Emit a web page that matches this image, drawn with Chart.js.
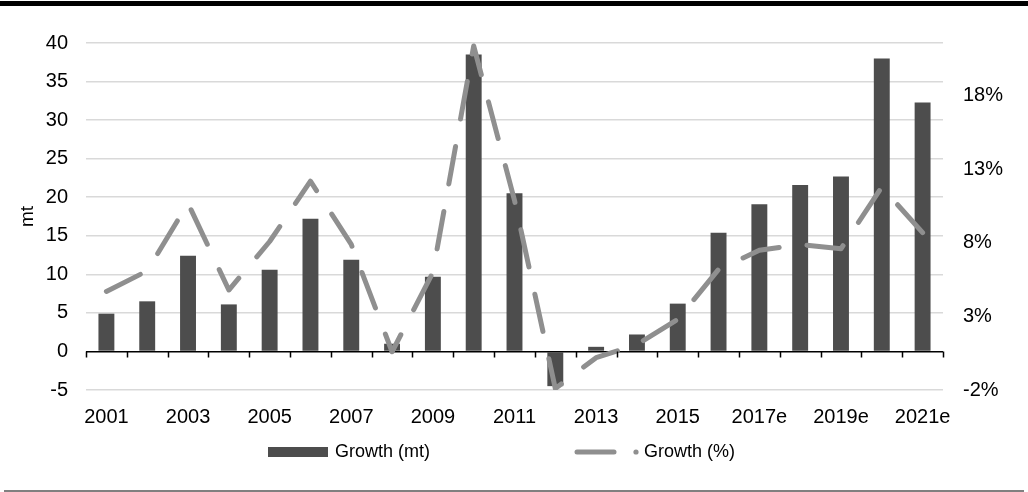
<!DOCTYPE html>
<html>
<head>
<meta charset="utf-8">
<script src="https://cdn.jsdelivr.net/npm/chart.js@4/dist/chart.umd.min.js"></script>
<style>
  body { margin: 0; background: #fff; }
  #wrap { width: 1028px; height: 492px; position: relative; }
</style>
</head>
<body>
<div id="wrap"><canvas id="myChart"></canvas></div>
<script>
// years on the x axis
var labels = ['2001', '2002', '2003', '2004', '2005', '2006', '2007', '2008', '2009', '2010',
  '2011', '2012', '2013', '2014', '2015', '2016', '2017e', '2018e', '2019e', '2020e', '2021e'];
// growth in mt (bars, left axis)
var growthMt = [4.9, 6.5, 12.4, 6.1, 10.6, 17.2, 11.9, 1.0, 9.7, 38.5,
  20.5, -4.5, 0.6, 2.2, 6.2, 15.4, 19.1, 21.6, 22.7, 38.0, 32.3];
// growth in % (dashed line, right axis)
var growthPct = [4.7, 6.1, 10.7, 4.8, 8.1, 12.2, 7.9, 0.6, 6.0, 21.4,
  10.9, -1.9, 0.2, 1.1, 2.8, 6.2, 7.5, 7.9, 7.6, 11.8, 8.7];
// right axis tick labels
var pctTicks = [-2, 3, 8, 13, 18];

var FONT = 'Liberation Sans, Arial, sans-serif';
var BAR = '#4d4d4d';
var LINE = '#8f8f8f';

// frame lines, zero-axis tick marks and the legend
const extras = {
  id: 'extras',
  afterDraw(chart) {
    const c = chart.ctx;
    const x = chart.scales.x;
    const y = chart.scales.y;
    c.save();
    c.fillStyle = '#000';
    c.fillRect(0, 1, 1028, 5);
    c.fillStyle = '#808080';
    c.fillRect(4, 490, 1020, 2);

    // ticks on the zero line, between categories
    const y0 = y.getPixelForValue(0);
    const step = (x.right - x.left) / labels.length;
    c.strokeStyle = '#000';
    c.lineWidth = 1.5;
    c.beginPath();
    for (let i = 0; i <= labels.length; i++) {
      const px = Math.round(x.left + i * step) + 0.5;
      c.moveTo(px, y0);
      c.lineTo(px, y0 + 6);
    }
    c.stroke();

    // legend
    const ly = 452;
    c.fillStyle = BAR;
    c.fillRect(268, ly - 5, 60, 10);
    c.font = '18px ' + FONT;
    c.fillStyle = '#000';
    c.textBaseline = 'middle';
    c.fillText('Growth (mt)', 335, ly);

    c.strokeStyle = LINE;
    c.lineWidth = 5;
    c.lineCap = 'round';
    c.beginPath();
    c.moveTo(577, ly);
    c.lineTo(614, ly);
    c.stroke();
    c.fillStyle = LINE;
    c.beginPath();
    c.arc(636, ly, 2.6, 0, Math.PI * 2);
    c.fill();
    c.fillStyle = '#000';
    c.fillText('Growth (%)', 644, ly);
    c.restore();
  }
};

const ctx = document.getElementById('myChart');
var myChart = new Chart(ctx, {
  type: 'bar',
  data: {
    labels: labels,
    datasets: [
      {
        type: 'line',
        label: 'Growth (%)',
        data: growthPct,
        yAxisID: 'y1',
        borderColor: LINE,
        borderWidth: 5,
        borderDash: [38, 28],
        borderCapStyle: 'round',
        borderJoinStyle: 'round',
        pointRadius: 0,
        tension: 0,
        order: 0
      },
      {
        label: 'Growth (mt)',
        data: growthMt,
        yAxisID: 'y',
        backgroundColor: BAR,
        barPercentage: 0.39,
        categoryPercentage: 1,
        order: 1
      }
    ]
  },
  options: {
    responsive: true,
    maintainAspectRatio: false,
    animation: false,
    layout: { padding: { left: 10, right: 0, top: 43, bottom: 62 } },
    plugins: {
      legend: { display: false },
      tooltip: { enabled: false }
    },
    scales: {
      x: {
        grid: { display: false },
        border: { display: false },
        ticks: {
          autoSkip: false,
          maxRotation: 0,
          padding: 7,
          color: '#000',
          font: { family: FONT, size: 20 },
          callback: function (v, i) { return i % 2 === 0 ? labels[i] : ''; }
        },
        afterFit: function (s) { s.height = 40; }
      },
      y: {
        position: 'left',
        min: -5,
        max: 40,
        border: { display: false },
        grid: {
          drawTicks: false,
          lineWidth: 1.5,
          color: function (c) { return c.tick.value === 0 ? '#000' : '#d9d9d9'; }
        },
        ticks: {
          stepSize: 5,
          padding: 18,
          color: '#000',
          font: { family: FONT, size: 20 }
        },
        title: {
          display: true,
          text: 'mt',
          color: '#000',
          padding: { top: 6, bottom: 0 },
          font: { family: FONT, size: 19 }
        },
        afterFit: function (s) { s.width = 76; }
      },
      y1: {
        position: 'right',
        min: -2,
        max: 21.6,
        border: { display: false },
        grid: { display: false },
        afterBuildTicks: function (s) {
          s.ticks = pctTicks.map(function (v) { return { value: v }; });
        },
        ticks: {
          padding: 12,
          color: '#000',
          font: { family: FONT, size: 20 },
          callback: function (v) { return v + '%'; }
        },
        afterFit: function (s) { s.width = 85; }
      }
    }
  },
  plugins: [extras]
});
</script>
</body>
</html>
